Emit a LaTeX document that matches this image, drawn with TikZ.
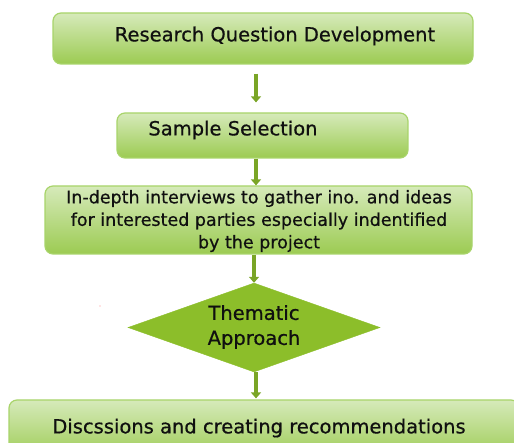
\documentclass[tikz,border=0pt]{standalone}
\usepackage{fontspec}
\setmainfont{DejaVu Sans}[FakeBold=0.6]
\usetikzlibrary{arrows.meta,shapes.geometric}
\definecolor{boxtop}{HTML}{D6EABA}
\definecolor{boxbot}{HTML}{9CCB52}
\definecolor{boxline}{HTML}{A8D46A}
\definecolor{diafill}{HTML}{8CBE2A}
\definecolor{arrowgreen}{HTML}{7AA526}
\definecolor{inkdark}{HTML}{101010}
\tikzset{
  stepbox/.style={draw=boxline, line width=1.2pt, rounded corners=8pt,
    top color=boxtop, bottom color=boxbot, inner sep=0pt},
  decision/.style={diamond, aspect=2.83, fill=diafill, draw=diafill,
    inner sep=0pt, minimum width=252pt, minimum height=89pt},
  boxtext/.style={text=inkdark, font=\fontsize{19.5}{23}\selectfont, inner sep=0pt, anchor=center},
  smalltext/.style={text=inkdark, font=\fontsize{17.5}{22.5}\selectfont, inner sep=0pt, align=center},
  flow/.style={draw=arrowgreen, line width=4pt,
    -{Triangle[width=10pt,length=6pt]}}
}
\begin{document}
\begin{tikzpicture}[x=1pt,y=-1pt]
  \useasboundingbox (0,0) rectangle (514,443);
  \begin{scope}
    \clip (0,0) rectangle (514,443);
    % process boxes
    \node[stepbox, minimum width=420pt, minimum height=51pt] (b1) at (263,38.5) {};
    \node[stepbox, minimum width=291pt, minimum height=45pt] (b2) at (262.5,135.5) {};
    \node[stepbox, minimum width=427pt, minimum height=68pt] (b3) at (258.5,220) {};
    \node[decision] (d4) at (254,327.5) {};
    \node[stepbox, minimum width=510pt, minimum height=60pt] (b5) at (264,430) {};
  \end{scope}
  % texts
  \node[boxtext] (t1) at (275,36) {Research Question Development};
  \node[boxtext] (t2) at (233,130) {Sample Selection};
  \node[smalltext] (t3) at (259,221) {In-depth interviews to gather ino. and ideas\\for interested parties especially indentified\\by the project};
  \node[boxtext, align=center, font=\fontsize{19.5}{25}\selectfont] (t4) at (254,327) {Thematic\\Approach};
  \node[boxtext] (t5) at (259,428) {Discssions and creating recommendations};
  % connectors
  \coordinate (ax) at (256,0);
  \coordinate (bx) at (254,0);
  \draw[flow, shorten <=9pt, shorten >=10pt] (b1.south -| ax) -- (b2.north -| ax);
  \draw[flow] (b2.south -| ax) -- (b3.north -| ax);
  \draw[flow] (b3.south -| bx) -- (d4.north);
  \draw[flow, shorten >=1pt] (d4.south -| ax) -- (b5.north -| ax);
  % small stray mark
  \fill[red!45] (100,306) circle (0.7pt);
\end{tikzpicture}
\end{document}
